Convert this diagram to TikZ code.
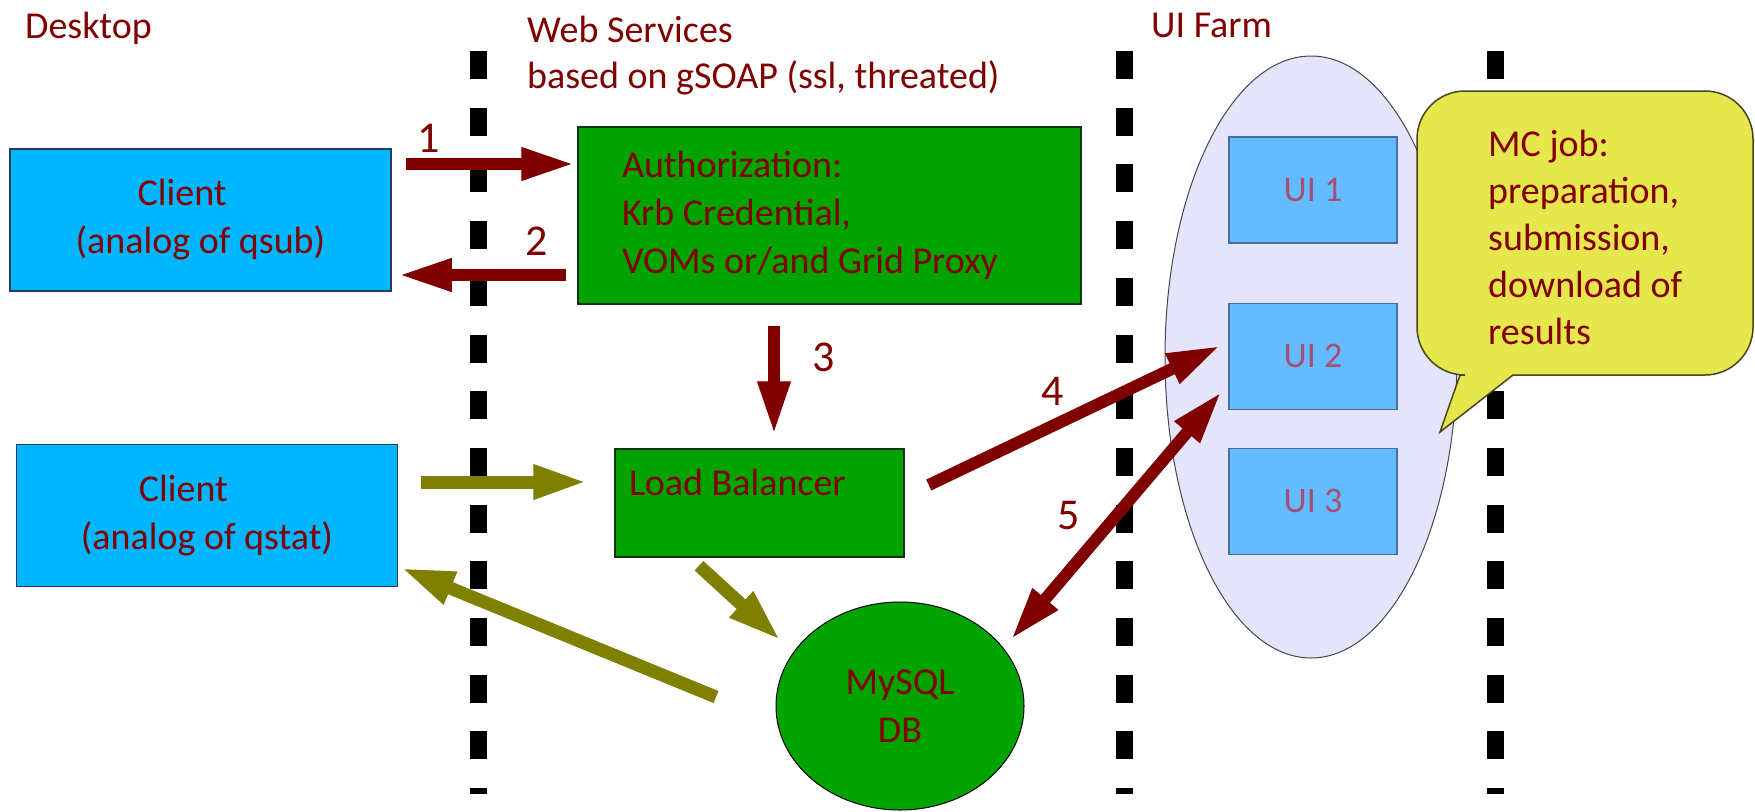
\documentclass[tikz,border=0pt]{standalone}
\usepackage{fontspec}
\setmainfont{Carlito}
\usetikzlibrary{positioning,calc,shapes.geometric,arrows.meta}

\definecolor{inkred}{RGB}{128,0,0}
\definecolor{clientblue}{RGB}{0,182,255}
\definecolor{clientedge}{RGB}{40,60,90}
\definecolor{servicegreen}{RGB}{0,163,0}
\definecolor{serviceedge}{RGB}{20,50,20}
\definecolor{olivegreen}{RGB}{128,128,0}
\definecolor{uiblue}{RGB}{100,187,255}
\definecolor{uiedge}{RGB}{70,110,160}
\definecolor{uitext}{RGB}{165,80,115}
\definecolor{farmlav}{RGB}{228,228,250}
\definecolor{farmedge}{RGB}{70,70,80}
\definecolor{noteyellow}{RGB}{230,230,77}
\definecolor{noteedge}{RGB}{70,70,30}

\begin{document}
\begin{tikzpicture}[
				x=1pt, y=-1pt,
				hand/.style={font=\fontsize{38}{48}\selectfont, text=inkred},
				title/.style={hand, anchor=base west, inner sep=0pt},
				numlabel/.style={hand, font=\fontsize{44}{48}\selectfont, inner sep=2pt},
				client/.style={hand, rectangle, draw=clientedge, line width=1.5pt, fill=clientblue, minimum width=381pt, minimum height=142pt, align=left},
				service/.style={hand, rectangle, draw=serviceedge, line width=1.5pt, fill=servicegreen, align=flush left},
				uibox/.style={rectangle, draw=uiedge, line width=1.2pt, fill=uiblue, minimum width=168pt, minimum height=106pt, font=\fontsize{36}{40}\selectfont, text=uitext},
				farm/.style={ellipse, draw=farmedge, line width=1pt, fill=farmlav, minimum width=292pt, minimum height=602pt, inner sep=0pt},
				dbnode/.style={hand, ellipse, draw=black, line width=1pt, fill=servicegreen, minimum width=248pt, minimum height=208pt, inner sep=0pt, align=center},
				separator/.style={line width=17pt, dash pattern=on 28pt off 28.7pt},
				redarrow/.style={draw=inkred, line width=12pt, -{Triangle[length=50pt,width=34pt,line width=1pt]}},
				redboth/.style={redarrow, {Triangle[length=50pt,width=34pt,line width=1pt]}-{Triangle[length=50pt,width=34pt,line width=1pt]}},
				olivearrow/.style={draw=olivegreen, line width=13pt, -{Triangle[length=50pt,width=36pt,line width=1pt]}}
				]
				\useasboundingbox (0,0) rectangle (1755,811);
				
				\foreach \x in {478,1124,1495}
					\draw[separator] (\x,51) -- (\x,794);
				
				\node[title] (desktop) at (25,38) {Desktop};
				\node[title] (websrv) at (527,42) {Web Services};
				\node[title] (gsoap) at (527,88) {based on gSOAP (ssl, threated)};
				\node[title] (uifarm) at (1151,37) {UI Farm};
				
				\node[client] (client1) at (200.5,220) {\hspace*{62pt}Client\\(analog of qsub)};
				\node[client] (client2) at (207,515.5) {\hspace*{58pt}Client\\(analog of qstat)};
				
				\node[service, text width=415pt, minimum height=177pt, inner xsep=44pt] (auth) at (829.5,215.5) {Authorization:\\Krb Credential,\\VOMs or/and Grid Proxy};
				\node[service, text width=261pt, text height=46pt, text depth=62pt, inner xsep=14pt, inner ysep=0pt] (lb) at (759.5,503) {Load Balancer};
				\node[dbnode] (db) at (900,706) {MySQL\\DB};
				
				\node[farm] (farm) at (1311,357) {};
				\node[uibox] (ui1) at (1313,190) {UI 1};
				\node[uibox, below=59pt of ui1] (ui2) {UI 2};
				\node[uibox, below=38pt of ui2] (ui3) {UI 3};
				
				\draw[noteedge, line width=1.5pt, fill=noteyellow] (1460,375) [rounded corners=48pt] -- (1417,375) -- (1417,91) -- (1753,91) -- (1753,375) [sharp corners] -- (1513,375) -- (1440,432) -- cycle;
				\node[hand, anchor=north west, align=left, inner sep=0pt, font=\fontsize{38}{47}\selectfont] (mcjob) at (1488,130) {MC job:\\preparation,\\submission,\\download of\\results};
				
				\draw[redarrow] ([shift={(14,-56)}]client1.east) -- node[numlabel, pos=0.14, above=4pt] {1} ([shift={(-6,-51.5)}]auth.west);
				\draw[redarrow] ([shift={(-11,59.5)}]auth.west) -- node[numlabel, pos=0.18, above=12pt] {2} ([shift={(10,55)}]client1.east);
				\draw[redarrow] ([shift={(-55.5,21)}]auth.south) -- node[numlabel, pos=0.3, right=30pt] {3} ([shift={(14.5,-17)}]lb.north);
				\draw[redarrow] ([shift={(24,-18)}]lb.east) -- node[numlabel, pos=0.43, above=12pt] {4} ([shift={(-11,-9)}]ui2.west);
				\draw[redboth] ([shift={(113,-69)}]db.center) -- node[numlabel, pos=0.5, left=28pt] {5} ([shift={(-9,38)}]ui2.west);
				
				\draw[olivearrow] ([shift={(23,-33.5)}]client2.east) -- ([shift={(-31,-21)}]lb.west);
				\draw[olivearrow] ([shift={(-60.5,8)}]lb.south) -- ([shift={(-122,-68)}]db.center);
				\draw[olivearrow] ([shift={(-184,-9)}]db.center) -- ([shift={(6,-18)}]client2.south east);
			\end{tikzpicture}
\end{document}
